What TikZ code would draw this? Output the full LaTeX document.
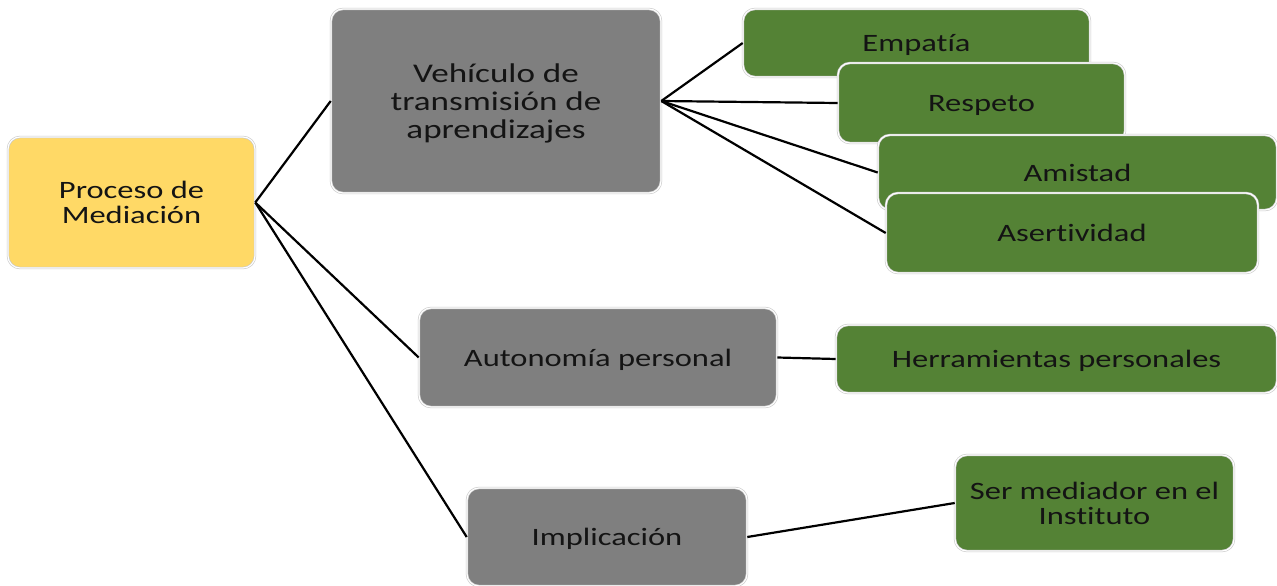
\documentclass[tikz,border=0pt]{standalone}
\usepackage{fontspec}
\setmainfont[FakeStretch=1.3,RawFeature={-liga;-dlig;-clig}]{Carlito}
\definecolor{yel}{HTML}{FFD966}
\definecolor{gry}{HTML}{7F7F7F}
\definecolor{grn}{HTML}{548235}
\definecolor{bord}{HTML}{C8C8C8}
\definecolor{txt}{HTML}{141414}
\tikzset{
  box/.style={rectangle, rounded corners=12pt, draw=bord, line width=0.6pt,
    double=white, double distance=1.2pt, align=center, text=txt,
    font=\fontsize{25}{25}\selectfont, inner sep=0pt, text depth=0pt},
  ybox/.style={box, fill=yel},
  gbox/.style={box, fill=gry},
  vbox/.style={box, fill=grn},
  conn/.style={draw=black, line width=2.2pt}
}
\begin{document}
\begin{tikzpicture}[x=1pt,y=-1pt]
\useasboundingbox (0,0) rectangle (1277,586);
\begin{scope}
\clip (0,0) rectangle (1277,586);
\node[ybox, minimum width=247pt, minimum height=131pt] (proc) at (131.5,202.5) {Proceso de\\Mediación};
\node[gbox, minimum width=330pt, minimum height=184pt, font=\fontsize{27}{28}\selectfont] (veh) at (496,101) {Vehículo de\\transmisión de\\aprendizajes};
\node[vbox, minimum width=347pt, minimum height=68pt] (emp) at (916.5,43) {Empatía};
\node[vbox, minimum width=287pt, minimum height=80pt] (res) at (981.5,103) {Respeto};
\node[vbox, minimum width=399pt, minimum height=75pt] (ami) at (1077.5,172.5) {Amistad};
\node[vbox, minimum width=372pt, minimum height=80pt] (ase) at (1072,233) {Asertividad};
\node[gbox, minimum width=358pt, minimum height=99pt] (aut) at (598,357.5) {Autonomía personal};
\node[vbox, minimum width=441pt, minimum height=68pt] (her) at (1056.5,359) {Herramientas personales};
\node[gbox, minimum width=280pt, minimum height=98pt] (imp) at (607,537) {Implicación};
\node[vbox, minimum width=279pt, minimum height=96pt] (ser) at (1094.5,503) {Ser mediador en el\\Instituto};
\end{scope}
\draw[conn] (proc.east) -- (veh.west);
\draw[conn] (proc.east) -- (aut.west);
\draw[conn] (proc.east) -- (imp.west);
\draw[conn] (veh.east) -- (emp.west);
\draw[conn] (veh.east) -- (res.west);
\draw[conn] (veh.east) -- (ami.west);
\draw[conn] (veh.east) -- (ase.west);
\draw[conn] (aut.east) -- (her.west);
\draw[conn] (imp.east) -- (ser.west);
\end{tikzpicture}
\end{document}
